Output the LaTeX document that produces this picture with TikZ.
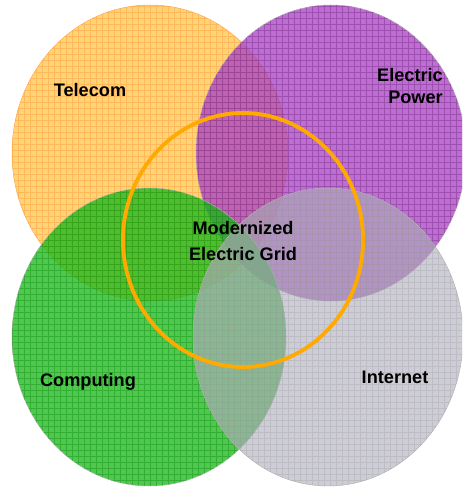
\documentclass[tikz,border=0pt]{standalone}
\usepackage{fontspec}
\setmainfont{Liberation Sans}
\usetikzlibrary{positioning}
\definecolor{telecom-yellow}{RGB}{255, 212, 120}
\definecolor{power-purple}{RGB}{168, 62, 195}
\definecolor{computing-green}{RGB}{22, 182, 22}
\definecolor{internet-gray}{RGB}{172, 172, 189}
\definecolor{grid-orange}{RGB}{255, 170, 0}
\tikzset{label/.style={font=\fontsize{15.5}{19}\selectfont\bfseries, text=black, inner sep=0pt},
  texture/.style={step=0.18cm, line width=0.35pt}}

\begin{document}
\begin{tikzpicture}[x=0.03cm, y=-0.03cm]
            \useasboundingbox (0, 0) rectangle (462, 488);
            \begin{scope}
            \clip (0, 0) rectangle (462, 488);
            \filldraw[fill=telecom-yellow, draw=orange!70] (150, 153) ellipse [x radius=138, y radius=148];
            \begin{scope}
            \clip (150, 153) ellipse [x radius=138, y radius=148];
            \draw[texture, color=orange!80, opacity=0.45] (0, 0) grid (462, 488);
            \end{scope}
            \filldraw[fill=power-purple, fill opacity=0.75, draw=gray!60] (331, 153) ellipse [x radius=135, y radius=148];
            \begin{scope}
            \clip (331, 153) ellipse [x radius=135, y radius=148];
            \draw[texture, color=power-purple!70!black, opacity=0.45] (0, 0) grid (462, 488);
            \end{scope}
            \filldraw[fill=computing-green, fill opacity=0.75, draw=gray!60] (149, 337) ellipse [x radius=137, y radius=149];
            \begin{scope}
            \clip (149, 337) ellipse [x radius=137, y radius=149];
            \draw[texture, color=computing-green!80!black, opacity=0.45] (0, 0) grid (462, 488);
            \end{scope}
            \filldraw[fill=internet-gray, fill opacity=0.6, draw=gray!60] (328, 337) ellipse [x radius=135, y radius=149];
            \begin{scope}
            \clip (328, 337) ellipse [x radius=135, y radius=149];
            \draw[texture, color=gray!70, opacity=0.4] (0, 0) grid (462, 488);
            \end{scope}
            \draw[grid-orange, line width=3.3pt] (243, 240) ellipse [x radius=120, y radius=127];
            \end{scope}
            \node[label] (telecom) at (90, 90) {Telecom};
            \node[label, anchor=east, align=right] (power) at (443, 86) {Electric\\Power};
            \node[label, align=center, font=\fontsize{15.5}{22}\selectfont\bfseries] (grid) at (243, 241) {Modernized\\Electric Grid};
            \node[label] (computing) at (88, 382) {Computing};
            \node[label] (internet) at (395, 377) {Internet};
        \end{tikzpicture}
\end{document}
